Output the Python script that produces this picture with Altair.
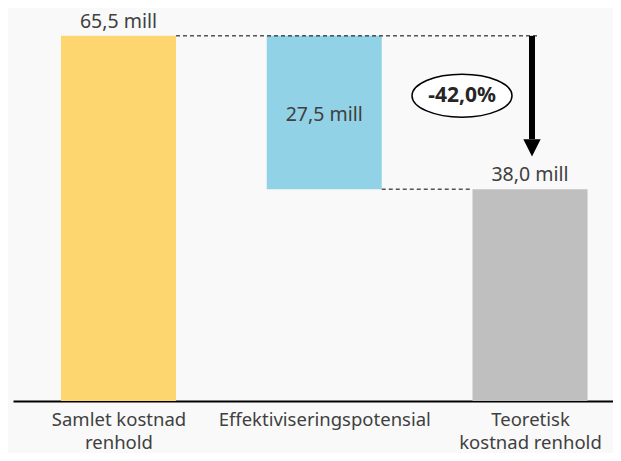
import json
import altair as alt
import pandas as pd

# ---- data ----
categories = ["Samlet kostnad renhold", "Effektiviseringspotensial", "Teoretisk kostnad renhold"]
label_lines = [["Samlet kostnad", "renhold"], ["Effektiviseringspotensial"], ["Teoretisk", "kostnad renhold"]]
bar_start = [0.0, 38.0, 0.0]
bar_end = [65.5, 65.5, 38.0]
value_labels = ["65,5 mill", "27,5 mill", "38,0 mill"]
bar_colors = ["#FDD670", "#92D2E6", "#BFBFBF"]
change_label = "-42,0%"

idx = list(range(len(categories)))
half = 0.2795

bars = pd.DataFrame({
    "i": idx,
    "x0": [i - half for i in idx],
    "x1": [i + half for i in idx],
    "y0": bar_start,
    "y1": bar_end,
    "cat": categories,
    "color": bar_colors,
})

lab = pd.DataFrame({
    "i": idx,
    "y": [bar_end[0], (bar_start[1] + bar_end[1]) / 2, bar_end[2]],
    "t": value_labels,
    "pos": ["above", "mid", "above"],
})

FONT = "Noto Sans"
TXT = "#404040"
FS = 19.5
AFS = 18.5

x_scale = alt.Scale(domain=[-0.5128, 2.4034], nice=False, zero=False)
y_scale = alt.Scale(domain=[0, 70.5], nice=False, zero=True)

label_expr = json.dumps(label_lines) + "[datum.value]"

base = alt.Chart(bars)

bar_layer = base.mark_rect().encode(
    x=alt.X("x0:Q", scale=x_scale,
            axis=alt.Axis(values=idx, labelExpr=label_expr, title=None, grid=False,
                          ticks=False, domain=True, domainColor="#000000", domainWidth=2,
                          labelFont=FONT, labelFontSize=AFS, labelColor=TXT,
                          labelPadding=9, labelLineHeight=23, labelFlush=False,
                          labelOverlap=False, labelLimit=0)),
    x2="x1:Q",
    y=alt.Y("y0:Q", scale=y_scale, axis=None),
    y2="y1:Q",
    color=alt.Color("color:N", scale=None),
)

text_above = alt.Chart(lab[lab["pos"] == "above"]).mark_text(
    font=FONT, fontSize=FS, color=TXT, dy=-14
).encode(x=alt.X("i:Q", scale=x_scale), y=alt.Y("y:Q", scale=y_scale), text="t:N")
text_mid = alt.Chart(lab[lab["pos"] == "mid"]).mark_text(
    font=FONT, fontSize=FS, color=TXT, dy=2
).encode(x=alt.X("i:Q", scale=x_scale), y=alt.Y("y:Q", scale=y_scale), text="t:N")

# connectors
arrow_x = 2.0097
conn = pd.DataFrame({
    "xa": [0 + half, 1 + half],
    "xb": [2.0486, 2 - half],
    "y": [bar_end[0], bar_end[2]],
})
connectors = alt.Chart(conn).mark_rule(color="#000000", strokeDash=[4, 3], strokeWidth=1).encode(
    x=alt.X("xa:Q", scale=x_scale), x2="xb:Q", y=alt.Y("y:Q", scale=y_scale)
)

# arrow
arrow_df = pd.DataFrame({"x": [arrow_x], "ya": [bar_end[0]], "yb": [47.0], "ytri": [45.4]})
shaft = alt.Chart(arrow_df).mark_rule(color="#000000", strokeWidth=6).encode(
    x=alt.X("x:Q", scale=x_scale), y=alt.Y("ya:Q", scale=y_scale), y2="yb:Q"
)
head = alt.Chart(arrow_df).mark_point(
    shape="M-1,-1L1,-1L0,1Z", filled=True, color="#000000", size=300, opacity=1
).encode(x=alt.X("x:Q", scale=x_scale), y=alt.Y("ytri:Q", scale=y_scale))

# ellipse with percentage
ell_df = pd.DataFrame({"x": [1.6695], "y": [54.77], "t": [change_label]})
ellipse = alt.Chart(ell_df).mark_point(
    shape="M-1,0A1,0.43 0 1,0 1,0A1,0.43 0 1,0 -1,0Z", filled=False,
    stroke="#000000", strokeWidth=1.5, fill="#FFFFFF", fillOpacity=1, size=10000, opacity=1
).encode(x=alt.X("x:Q", scale=x_scale), y=alt.Y("y:Q", scale=y_scale))
ell_text = alt.Chart(ell_df).mark_text(
    font=FONT, fontSize=21, fontWeight="bold", color="#262626"
).encode(x=alt.X("x:Q", scale=x_scale), y=alt.Y("y:Q", scale=y_scale), text="t:N")

chart = alt.layer(
    bar_layer, connectors, shaft, head, ellipse, ell_text, text_above, text_mid
).properties(
    width=600, height=393,
    autosize=alt.AutoSizeParams(type="none"),
    padding={"left": 5, "top": 0, "right": 0, "bottom": 52},
    background="#F9F9F9",
).configure_view(stroke=None)

chart.save("out.html", embed_options={"renderer": "svg", "actions": False})
